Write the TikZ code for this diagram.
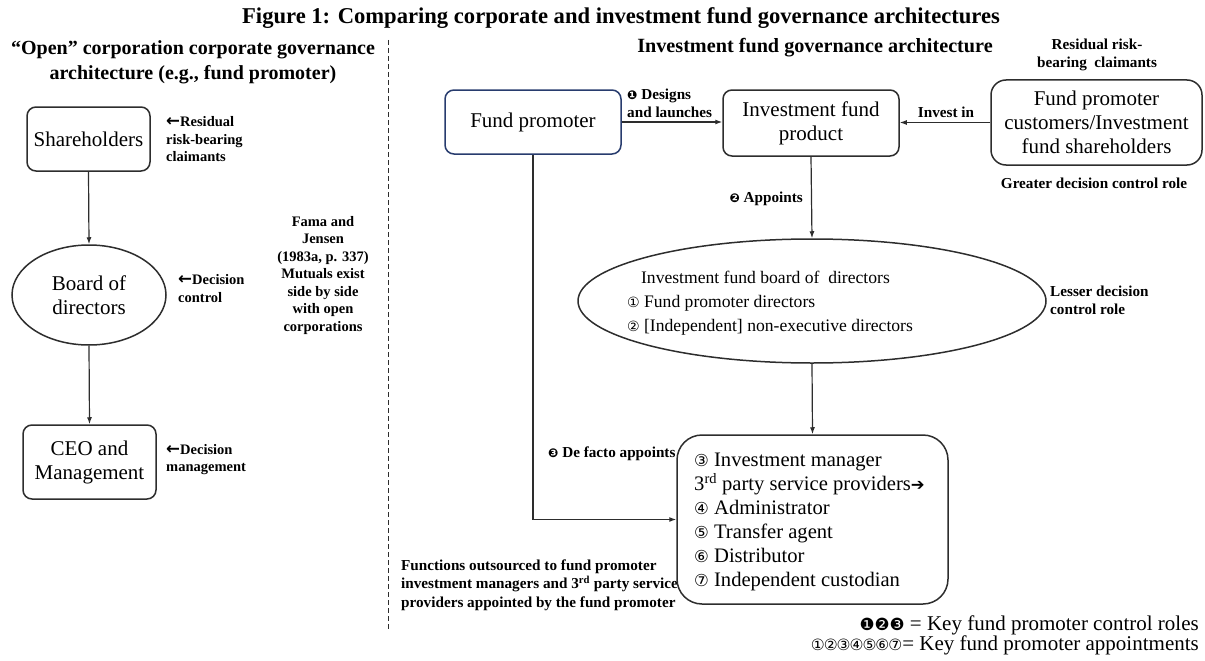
\documentclass[tikz,border=0pt]{standalone}
\usepackage{fontspec}
\setmainfont{Liberation Serif}
\newfontfamily\sym{DejaVu Sans}[Scale=0.8]
\newfontfamily\symsmall{DejaVu Sans}[Scale=0.74]
\newfontfamily\symb{DejaVu Sans Bold}[Scale=0.8]
\newfontfamily\arrowsym{DejaVu Sans Bold}[Scale=1.15]
\usetikzlibrary{shapes.geometric,arrows.meta}
\definecolor{navy}{RGB}{40,60,110}
\definecolor{edge}{RGB}{45,45,45}
\begin{document}
\begin{tikzpicture}[x=1pt,y=-1pt,
  mainfont/.style={font=\fontsize{21}{24}\selectfont},
  box/.style={draw=edge,line width=1.5pt,rounded corners=9pt,align=center,inner sep=0pt,mainfont,fill=white},
  ell/.style={draw=edge,line width=1.5pt,ellipse,inner sep=0pt,align=center,mainfont},
  lbl/.style={font=\bfseries\fontsize{14.5}{17.5}\selectfont,align=left,inner sep=0pt},
  rlbl/.style={font=\bfseries\fontsize{15.2}{17.5}\selectfont,align=left,inner sep=0pt},
  heading/.style={font=\bfseries\fontsize{20.2}{25}\selectfont,align=center,inner sep=0pt},
  arr/.style={-{Latex[length=7pt,width=5pt]},line width=1.2pt,draw=edge},
]
\useasboundingbox (0,0) rectangle (1205,661);

% headings
\node[heading,font=\bfseries\fontsize{22.6}{26}\selectfont] (title) at (621,18) {Figure 1: Comparing corporate and investment fund governance architectures};
\node[heading,font=\bfseries\fontsize{20}{25}\selectfont] (lh) at (193,62) {“Open” corporation corporate governance\\architecture (e.g., fund promoter)};
\node[heading] (rh) at (815,48) {Investment fund governance architecture};

% divider
\coordinate (d1) at (388,40);
\coordinate (d2) at (388,630);
\draw[line width=1pt,draw=edge,dash pattern=on 5pt off 3pt] (d1) -- (d2);

% left column
\node[box,minimum width=123pt,minimum height=64pt] (sh) at (88.5,139) {Shareholders};
\node[ell,minimum width=154pt,minimum height=100pt] (bd) at (89,295) {Board of\\directors};
\node[box,minimum width=133pt,minimum height=74pt] (ceo) at (89.5,462) {CEO and\\Management};
\draw[arr] (sh.south) -- (bd.north);
\draw[arr] (bd.south) -- (ceo.north);

\node[lbl,anchor=west] (l1) at (166,139.5) {{\arrowsym←}Residual\\risk-bearing\\claimants};
\node[lbl,anchor=west] (l2) at (178,288.5) {{\arrowsym←}Decision\\control};
\node[lbl,anchor=west] (l3) at (166,459.5) {{\arrowsym←}Decision\\management};
\node[lbl,align=center] (fama) at (323,275.5) {Fama and\\Jensen\\(1983a, p. 337)\\Mutuals exist\\side by side\\with open\\corporations};

% right column
\node[box,draw=navy,minimum width=176pt,minimum height=64pt] (fp) at (533,122) {Fund promoter};
\node[box,minimum width=176pt,minimum height=66pt] (ifp) at (811,123) {Investment fund\\product};
\node[box,rounded corners=15pt,minimum width=211pt,minimum height=85pt] (cust) at (1096.5,122.5) {Fund promoter\\customers/Investment\\fund shareholders};

\draw[arr] (fp.east) -- (fp.east -| ifp.west);
\draw[arr] (cust.west) -- (cust.west -| ifp.east);

\node[rlbl,anchor=west] (design) at (627,103.5) {{\sym❶} Designs\\and launches};
\node[rlbl] (invest) at (946,112) {Invest in};
\node[rlbl,align=center] (resid) at (1097,55) {Residual risk-\\bearing\ \ claimants};
\node[rlbl] (greater) at (1094,183) {Greater decision control role};

\node[ell,minimum width=468pt,minimum height=124pt] (bd2) at (812,301) {};
\node[font=\fontsize{17.6}{24}\selectfont,align=left,inner sep=0pt] (bdtext) at (770,303) {\hspace{14pt}Investment fund board of\ \ directors\\{\sym①} Fund promoter directors\\{\sym②} [Independent] non-executive directors};
\draw[arr] (ifp.south) -- (bd2.north);
\node[rlbl,anchor=east] (appoints) at (803,199) {{\sym❷} Appoints};
\node[rlbl,anchor=west] (lesser) at (1050,300.5) {Lesser decision\\control role};

\node[rlbl,anchor=west,font=\bfseries\fontsize{15.2}{18.3}\selectfont] (func) at (401,585) {Functions outsourced to fund promoter\\investment managers and 3\textsuperscript{rd} party service\\providers appointed by the fund promoter};
\node[rlbl,anchor=west] (defacto) at (548,454) {{\sym❸} De facto appoints};

\node[box,rounded corners=25pt,minimum width=271pt,minimum height=169pt] (svc) at (812.5,519.5) {};
\node[font=\fontsize{20.6}{24}\selectfont,align=left,inner sep=0pt,anchor=west] (svctext) at (694,522) {{\sym③} Investment manager\\3\textsuperscript{rd} party service providers{\symb➔}\\{\sym④} Administrator\\{\sym⑤} Transfer agent\\{\sym⑥} Distributor\\{\sym⑦} Independent custodian};

\draw[arr] (bd2.south) -- (svc.north);
\draw[arr] (fp.south) |- (svc.west);

% legend
\node[font=\fontsize{21}{24}\selectfont,anchor=east,inner sep=0pt] (leg1) at (1199,625) {{\sym❶❷❸} = Key fund promoter control roles};
\node[font=\fontsize{21}{24}\selectfont,anchor=east,inner sep=0pt] (leg2) at (1199,645) {{\symsmall①\kern-1pt②\kern-1pt③\kern-1pt④\kern-1pt⑤\kern-1pt⑥\kern-1pt⑦}= Key fund promoter appointments};
\end{tikzpicture}
\end{document}
